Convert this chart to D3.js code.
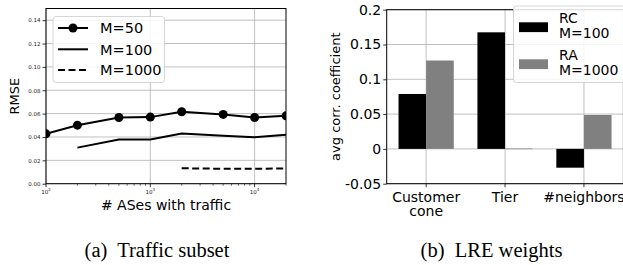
<!DOCTYPE html>
<html><head><meta charset="utf-8">
<script src="https://cdn.jsdelivr.net/npm/d3@7"></script>
<style>body{margin:0;background:#fff}svg{display:block}</style>
</head><body>
<script>
// ---- data ----
const asCounts = [100, 200, 500, 1000, 2000, 5000, 10000, 20000];
const rmseM50 = [0.0427, 0.0501, 0.0567, 0.0570, 0.0616, 0.0593, 0.0567, 0.0581];
const rmseM100 = [null, 0.0309, 0.0378, 0.0378, 0.0429, 0.0410, 0.0398, 0.0420];
const rmseM1000 = [null, null, null, null, 0.0132, 0.0128, 0.0128, 0.0130];
const leftYTicks = [0, 0.02, 0.04, 0.06, 0.08, 0.10, 0.12, 0.14];
const leftXTicks = [100, 1000, 10000];
const seriesNames = ["M=50", "M=100", "M=1000"];

const features = [["Customer", "cone"], ["Tier"], ["#neighbors"]];
const rcValues = [0.0789, 0.1675, -0.0270];
const raValues = [0.1270, 0.0005, 0.0487];
const rightYTicks = [-0.05, 0, 0.05, 0.1, 0.15, 0.2];
const rightYLabels = ["-0.05", "0", "0.05", "0.1", "0.15", "0.2"];
const barLegend = [["RC", "M=100"], ["RA", "M=1000"]];
const captions = ["(a)\u00a0 Traffic subset", "(b)\u00a0 LRE weights"];

const W = 623, H = 265;
const svg = d3.select("body").append("svg").attr("width", W).attr("height", H)
  .style("font-family", "DejaVu Sans, sans-serif");
const gridC = "#b0b0b0";

// ================= LEFT =================
const xL = d3.scaleLog().domain([100, 20000]).range([46, 286]);
const yL = d3.scaleLinear().domain([0, 0.15]).range([183.7, 8.5]);
const gL = svg.append("g");

gL.selectAll(".gy").data(leftYTicks).join("line")
  .attr("x1", 46).attr("x2", 286).attr("y1", d => yL(d)).attr("y2", d => yL(d))
  .attr("stroke", gridC).attr("stroke-width", 0.8);
gL.selectAll(".gx").data(leftXTicks).join("line")
  .attr("x1", d => xL(d)).attr("x2", d => xL(d)).attr("y1", yL(0.15)).attr("y2", yL(0))
  .attr("stroke", gridC).attr("stroke-width", 0.8);

const axYL = d3.axisLeft(yL).tickValues(leftYTicks).tickFormat(d3.format(".2f")).tickSize(3.5).tickPadding(2);
const gyl = gL.append("g").attr("transform", "translate(46,0)").call(axYL);
gyl.select(".domain").remove();
gyl.selectAll("text").attr("font-size", 5.5).attr("font-family", "DejaVu Sans").attr("fill", "#222");
gyl.selectAll("line").attr("stroke", "#000").attr("stroke-width", 0.8);

const minor = [];
for (let dec = 100; dec <= 10000; dec *= 10) for (let m = 2; m <= 9; m++) { const v = dec * m; if (v <= 20000) minor.push(v); }
gL.selectAll(".mt").data(minor).join("line")
  .attr("x1", d => xL(d)).attr("x2", d => xL(d)).attr("y1", yL(0)).attr("y2", yL(0) + 2)
  .attr("stroke", "#000").attr("stroke-width", 0.6);
gL.selectAll(".Mt").data(leftXTicks).join("line")
  .attr("x1", d => xL(d)).attr("x2", d => xL(d)).attr("y1", yL(0)).attr("y2", yL(0) + 3.5)
  .attr("stroke", "#000").attr("stroke-width", 0.8);
const xtl = gL.selectAll(".xtl").data(leftXTicks).join("text")
  .attr("x", d => xL(d)).attr("y", yL(0) + 10).attr("text-anchor", "middle")
  .attr("font-size", 5.5).attr("fill", "#222");
xtl.append("tspan").text("10");
xtl.append("tspan").attr("dy", -2.5).attr("font-size", 4).text(d => Math.round(Math.log10(d)));

gL.append("rect").attr("x", 46).attr("y", yL(0.15)).attr("width", 240).attr("height", yL(0) - yL(0.15))
  .attr("fill", "none").attr("stroke", "#000").attr("stroke-width", 1);

const lineGen = d3.line().defined(d => d[1] != null).x(d => xL(d[0])).y(d => yL(d[1]));
const mkData = arr => asCounts.map((c, i) => [c, arr[i]]);
svg.append("clipPath").attr("id", "clipL").append("rect")
  .attr("x", 46).attr("y", 8.5).attr("width", 240).attr("height", 176);
const gLines = gL.append("g").attr("clip-path", "url(#clipL)");
gLines.append("path").datum(mkData(rmseM50)).attr("d", lineGen).attr("fill", "none").attr("stroke", "#000").attr("stroke-width", 2);
gLines.append("path").datum(mkData(rmseM100)).attr("d", lineGen).attr("fill", "none").attr("stroke", "#000").attr("stroke-width", 2);
gLines.append("path").datum(mkData(rmseM1000)).attr("d", lineGen).attr("fill", "none").attr("stroke", "#000").attr("stroke-width", 2).attr("stroke-dasharray", "7,3.5");
gLines.selectAll(".pt").data(mkData(rmseM50)).join("circle")
  .attr("cx", d => xL(d[0])).attr("cy", d => yL(d[1])).attr("r", 4.5).attr("fill", "#000");

gL.append("text").attr("transform", `translate(19,${(yL(0) + yL(0.15)) / 2}) rotate(-90)`)
  .attr("text-anchor", "middle").attr("font-size", 13).text("RMSE");
gL.append("text").attr("x", 166).attr("y", 210).attr("text-anchor", "middle").attr("font-size", 14).text("# ASes with traffic");

const lg = gL.append("g");
lg.append("rect").attr("x", 53).attr("y", 16.5).attr("width", 111.5).attr("height", 66).attr("rx", 3)
  .attr("fill", "#fff").attr("fill-opacity", 0.85).attr("stroke", "#ccc").attr("stroke-width", 0.8);
const legYs = [28, 49.3, 70];
seriesNames.forEach((n, i) => {
  const y = legYs[i];
  const ln = lg.append("line").attr("x1", 58).attr("x2", 88).attr("y1", y).attr("y2", y).attr("stroke", "#000").attr("stroke-width", 2);
  if (i === 2) ln.attr("stroke-dasharray", "7,3.5");
  if (i === 0) lg.append("circle").attr("cx", 73).attr("cy", y).attr("r", 4.5).attr("fill", "#000");
  lg.append("text").attr("x", 100).attr("y", y + 5.3).attr("font-size", 14.5).text(n);
});

// ================= RIGHT =================
const xR = d3.scaleLinear().domain([-0.5, 2.5]).range([386.7, 623.4]);
const yR = d3.scaleLinear().domain([-0.05, 0.2]).range([183.7, 9.7]);
const gR = svg.append("g");
gR.selectAll(".gy").data(rightYTicks).join("line")
  .attr("x1", 386.7).attr("x2", 623).attr("y1", d => yR(d)).attr("y2", d => yR(d))
  .attr("stroke", gridC).attr("stroke-width", 0.8);
gR.selectAll(".gx").data(features).join("line")
  .attr("x1", (d, i) => xR(i)).attr("x2", (d, i) => xR(i)).attr("y1", yR(0.2)).attr("y2", yR(-0.05))
  .attr("stroke", gridC).attr("stroke-width", 0.8);

const bw = 0.35;
gR.selectAll(".rc").data(rcValues).join("rect")
  .attr("x", (d, i) => xR(i - bw)).attr("width", (d, i) => xR(i) - xR(i - bw))
  .attr("y", d => yR(Math.max(0, d))).attr("height", d => Math.abs(yR(d) - yR(0)))
  .attr("fill", "#000");
gR.selectAll(".ra").data(raValues).join("rect")
  .attr("x", (d, i) => xR(i)).attr("width", (d, i) => xR(i + bw) - xR(i))
  .attr("y", d => yR(Math.max(0, d))).attr("height", d => Math.max(0.6, Math.abs(yR(d) - yR(0))))
  .attr("fill", "#808080");

const axYR = d3.axisLeft(yR).tickValues(rightYTicks).tickFormat((d, i) => rightYLabels[i]).tickSize(3.5).tickPadding(2);
const gyr = gR.append("g").attr("transform", "translate(386.7,0)").call(axYR);
gyr.select(".domain").remove();
gyr.selectAll("text").attr("font-size", 14).attr("font-family", "DejaVu Sans").attr("fill", "#000");
gyr.selectAll("line").attr("stroke", "#000").attr("stroke-width", 0.8);

gR.append("rect").attr("x", 386.7).attr("y", yR(0.2)).attr("width", 623.4 - 386.7).attr("height", yR(-0.05) - yR(0.2))
  .attr("fill", "none").attr("stroke", "#000").attr("stroke-width", 1);

gR.selectAll(".xt").data(features).join("line")
  .attr("x1", (d, i) => xR(i)).attr("x2", (d, i) => xR(i)).attr("y1", yR(-0.05)).attr("y2", yR(-0.05) + 3.5)
  .attr("stroke", "#000").attr("stroke-width", 0.8);
features.forEach((lines, i) => {
  lines.forEach((t, j) => {
    gR.append("text").attr("x", xR(i)).attr("y", 202 + j * 14).attr("text-anchor", "middle").attr("font-size", 14).text(t);
  });
});

gR.append("text").attr("transform", `translate(340,${(yR(0.2) + yR(-0.05)) / 2}) rotate(-90)`)
  .attr("text-anchor", "middle").attr("font-size", 13).text("avg corr. coefficient");

const rg = gR.append("g");
rg.append("rect").attr("x", 513.5).attr("y", 6).attr("width", 130).attr("height", 76.5).attr("rx", 3)
  .attr("fill", "#fff").attr("fill-opacity", 0.85).attr("stroke", "#ccc").attr("stroke-width", 0.8);
const patchY = [22.3, 59.3];
const legCol = ["#000", "#808080"];
barLegend.forEach((lab, i) => {
  rg.append("rect").attr("x", 519).attr("y", patchY[i]).attr("width", 29).attr("height", 9.8).attr("fill", legCol[i]);
  rg.append("text").attr("x", 559).attr("y", patchY[i] + 0.8).attr("font-size", 14).text(lab[0]);
  rg.append("text").attr("x", 559).attr("y", patchY[i] + 15.8).attr("font-size", 14).text(lab[1]);
});

// captions
svg.selectAll(".cap").data(captions).join("text")
  .attr("x", (d, i) => [157, 491.5][i]).attr("y", 257).attr("text-anchor", "middle")
  .attr("font-family", "Liberation Serif, Times New Roman, serif").attr("font-size", 20.5)
  .text(d => d);
</script>
</body></html>
